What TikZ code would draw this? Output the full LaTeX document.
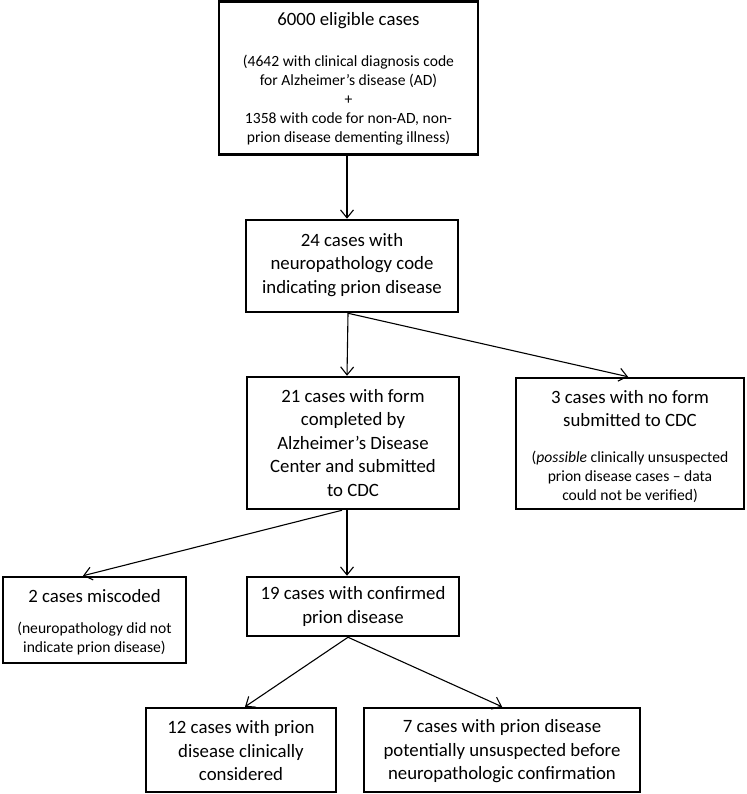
\documentclass[tikz,border=0pt]{standalone}
\usepackage{fontspec}
\setmainfont{Carlito}
\usetikzlibrary{arrows.meta}
\begin{document}
\begin{tikzpicture}[x=1pt,y=-1pt,
  box/.style={draw=black, line width=2.5pt, inner sep=0pt},
  mainf/.style={font=\fontsize{18.8}{23.5}\selectfont, align=center, inner sep=0pt},
  subf/.style={font=\fontsize{15.6}{19}\selectfont, align=center, inner sep=0pt},
  arr/.style={line width=1.1pt, -{Straight Barb[length=8pt,width=13pt]}}
]
\useasboundingbox (0,0) rectangle (746,794);

% boxes
\node[box, minimum width=259pt, minimum height=153pt] (b1) at (348.5,78) {};
\node[box, minimum width=212pt, minimum height=92pt]  (b2) at (352,266) {};
\node[box, minimum width=212pt, minimum height=132pt] (b3) at (353,443) {};
\node[box, minimum width=228pt, minimum height=131pt] (b4) at (630,443.5) {};
\node[box, minimum width=183pt, minimum height=86pt]  (b5) at (94.5,620) {};
\node[box, minimum width=212pt, minimum height=59pt]  (b6) at (353,606.5) {};
\node[box, minimum width=190pt, minimum height=84pt]  (b7) at (241,750) {};
\node[box, minimum width=276pt, minimum height=84pt]  (b8) at (502,750) {};

% texts
\node[mainf] (t1) at (348.5,21) {6000 eligible cases};
\node[subf] (s1) at (348.5,100) {(4642 with clinical diagnosis code\\for Alzheimer’s disease (AD)\\+\\1358 with code for non-AD, non-\\prion disease dementing illness)};
\node[mainf] (t2) at (352,265) {24 cases with\\neuropathology code\\indicating prion disease};
\node[mainf] (t3) at (353,443) {21 cases with form\\completed by\\Alzheimer’s Disease\\Center and submitted\\to CDC};
\node[mainf] (t4) at (630,408.5) {3 cases with no form\\submitted to CDC};
\node[subf] (s4) at (630,477) {(\textit{possible} clinically unsuspected\\prion disease cases – data\\could not be verified)};
\node[mainf] (t5) at (94.5,596) {2 cases miscoded};
\node[subf] (s5) at (94.5,639) {(neuropathology did not\\indicate prion disease)};
\node[mainf] (t6) at (353,606.5) {19 cases with confirmed\\prion disease};
\node[mainf] (t7) at (241,751) {12 cases with prion\\disease clinically\\considered};
\node[mainf] (t8) at (502,751.5) {7 cases with prion disease\\potentially unsuspected before\\neuropathologic confirmation};

% connectors
\draw[arr] ([xshift=-1.5pt]b1.south) -- ([xshift=-5pt]b2.north);
\draw[arr] ([xshift=-4pt]b2.south) -- ([xshift=-6pt]b3.north);
\draw[arr] ([xshift=-4pt]b2.south) -- ([xshift=-2pt]b4.north);
\draw[arr] ([xshift=-11pt]b3.south) -- ([xshift=-11.5pt]b5.north);
\draw[arr] ([xshift=-6pt]b3.south) -- ([xshift=-6pt]b6.north);
\draw[arr] ([xshift=-5pt]b6.south) -- ([xshift=4pt]b7.north);
\draw[arr] ([xshift=-5pt]b6.south) -- (b8.north);
\end{tikzpicture}
\end{document}
